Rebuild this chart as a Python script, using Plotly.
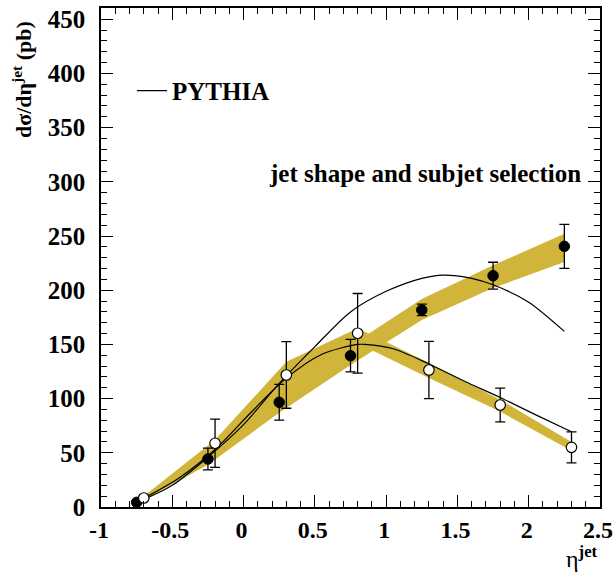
import plotly.graph_objects as go

# Measured cross sections (filled circles)
eta_a = [-0.75, -0.25, 0.25, 0.75, 1.25, 1.75, 2.25]
xsec_a = [4.3, 44.3, 96.6, 139.6, 181.8, 213.4, 240.5]
err_a = [1.5, 10.0, 16.5, 15.0, 5.3, 12.4, 20.3]

# Measured cross sections (open circles)
eta_b = [-0.70, -0.20, 0.30, 0.80, 1.30, 1.80, 2.30]
xsec_b = [8.3, 58.8, 121.8, 160.3, 126.4, 94.1, 55.1]
err_b = [1.5, 22.3, 30.7, 36.7, 26.5, 15.5, 14.3]

# Theory uncertainty bands (low / high edges)
band_a_low = [3.0, 39.0, 87.0, 131.0, 172.5, 202.0, 226.0]
band_a_high = [6.0, 50.0, 108.0, 149.0, 192.0, 223.0, 252.0]
band_b_low = [6.0, 49.0, 112.0, 151.0, 119.0, 88.0, 52.0]
band_b_high = [10.0, 62.0, 134.0, 165.0, 133.0, 99.0, 60.0]

# PYTHIA predictions
pythia_a_x = [-0.75, -0.5, -0.25, 0.0, 0.25, 0.5, 0.75, 1.0, 1.25, 1.4, 1.6, 1.75, 2.0, 2.25]
pythia_a_y = [4, 20, 46, 76, 114, 148, 180, 199, 211, 214, 211, 205, 189, 162]
pythia_b_x = [-0.7, -0.45, -0.2, 0.05, 0.3, 0.55, 0.8, 0.85, 1.05, 1.3, 1.55, 1.8, 2.05, 2.3]
pythia_b_y = [8, 27, 53, 87, 119, 141, 150, 150, 146, 132, 116, 101, 85, 69.5]

x_tick_vals = [-1, -0.5, 0, 0.5, 1, 1.5, 2, 2.5]
x_tick_text = ["-1", "-0.5", "0", "0.5", "1", "1.5", "2", "2.5"]
y_tick_vals = [0, 50, 100, 150, 200, 250, 300, 350, 400, 450]
y_tick_text = [str(v) for v in y_tick_vals]

GOLD = "rgb(209,181,58)"
SERIF = "Liberation Serif"

fig = go.Figure()

for lo, hi, xs in ((band_a_low, band_a_high, eta_a), (band_b_low, band_b_high, eta_b)):
    fig.add_trace(go.Scatter(
        x=xs + xs[::-1], y=hi + lo[::-1],
        fill="toself", fillcolor=GOLD, line=dict(width=0),
        mode="lines", showlegend=False, hoverinfo="skip",
    ))

fig.add_trace(go.Scatter(
    x=pythia_a_x, y=pythia_a_y, mode="lines", name="PYTHIA",
    line=dict(color="black", width=1.2, shape="spline", smoothing=0.8),
    showlegend=True,
))
fig.add_trace(go.Scatter(
    x=pythia_b_x, y=pythia_b_y, mode="lines",
    line=dict(color="black", width=1.2, shape="spline", smoothing=0.8),
    showlegend=False,
))

fig.add_trace(go.Scatter(
    x=eta_a, y=xsec_a, mode="markers", showlegend=False,
    marker=dict(color="black", size=10.5, line=dict(color="black", width=1)),
    error_y=dict(type="data", array=err_a, color="black", thickness=1.3, width=5),
))
fig.add_trace(go.Scatter(
    x=eta_b, y=xsec_b, mode="markers", showlegend=False,
    marker=dict(color="white", size=10.5, line=dict(color="black", width=1.2)),
    error_y=dict(type="data", array=err_b, color="black", thickness=1.3, width=5),
))

xtickfont = dict(family=SERIF, size=24, color="black", weight="bold")
ytickfont = dict(family=SERIF, size=25, color="black", weight="bold")

fig.update_xaxes(
    range=[-1, 2.5], tickvals=x_tick_vals, ticktext=x_tick_text,
    ticks="inside", ticklen=12, tickwidth=1.3, tickcolor="black",
    minor=dict(ticks="inside", ticklen=6, dtick=0.1, tickcolor="black", tickwidth=1.1),
    showline=True, linecolor="black", linewidth=1.5, mirror="allticks",
    showgrid=False, zeroline=False, tickfont=xtickfont,
    ticklabeloverflow="allow", ticklabelshift=-2, automargin=False,
)
fig.update_yaxes(
    range=[0, 460.4], tickvals=y_tick_vals, ticktext=y_tick_text,
    ticks="inside", ticklen=12, tickwidth=1.3, tickcolor="black",
    minor=dict(ticks="inside", ticklen=6, dtick=10, tickcolor="black", tickwidth=1.1),
    showline=True, linecolor="black", linewidth=1.5, mirror="allticks",
    showgrid=False, zeroline=False, tickfont=ytickfont,
    ticklabelstandoff=9, ticklabeloverflow="allow", automargin=False,
)

plot_w = 614 - 101 - 14
plot_h = 574 - 8 - 67

fig.add_annotation(
    text="jet shape and subjet selection", x=2.383, y=308,
    xref="x", yref="y", xanchor="right", yanchor="middle", showarrow=False,
    font=dict(family=SERIF, size=25, color="black", weight="bold"),
)
fig.add_annotation(
    text="dσ/dη<sup>jet</sup> (pb)", textangle=-90,
    x=(22 - 101) / plot_w, y=(507 - 80) / plot_h,
    xref="paper", yref="paper", xanchor="center", yanchor="middle", showarrow=False,
    font=dict(family=SERIF, size=22, color="black", weight="bold"),
)
fig.add_annotation(
    text="η<sup><b>jet</b></sup>", x=1.0, y=-(574 - 507) / plot_h,
    xref="paper", yref="paper", xanchor="right", yanchor="bottom", showarrow=False,
    font=dict(family=SERIF, size=24, color="black"),
)

fig.update_layout(
    width=614, height=574,
    margin=dict(l=101, r=14, t=8, b=67, autoexpand=False),
    paper_bgcolor="white", plot_bgcolor="white",
    legend=dict(
        x=0.062, y=0.834, xanchor="left", yanchor="middle",
        bgcolor="rgba(0,0,0,0)", borderwidth=0,
        font=dict(family=SERIF, size=25, color="black", weight="bold"),
    ),
)

fig.write_html("out.html")
